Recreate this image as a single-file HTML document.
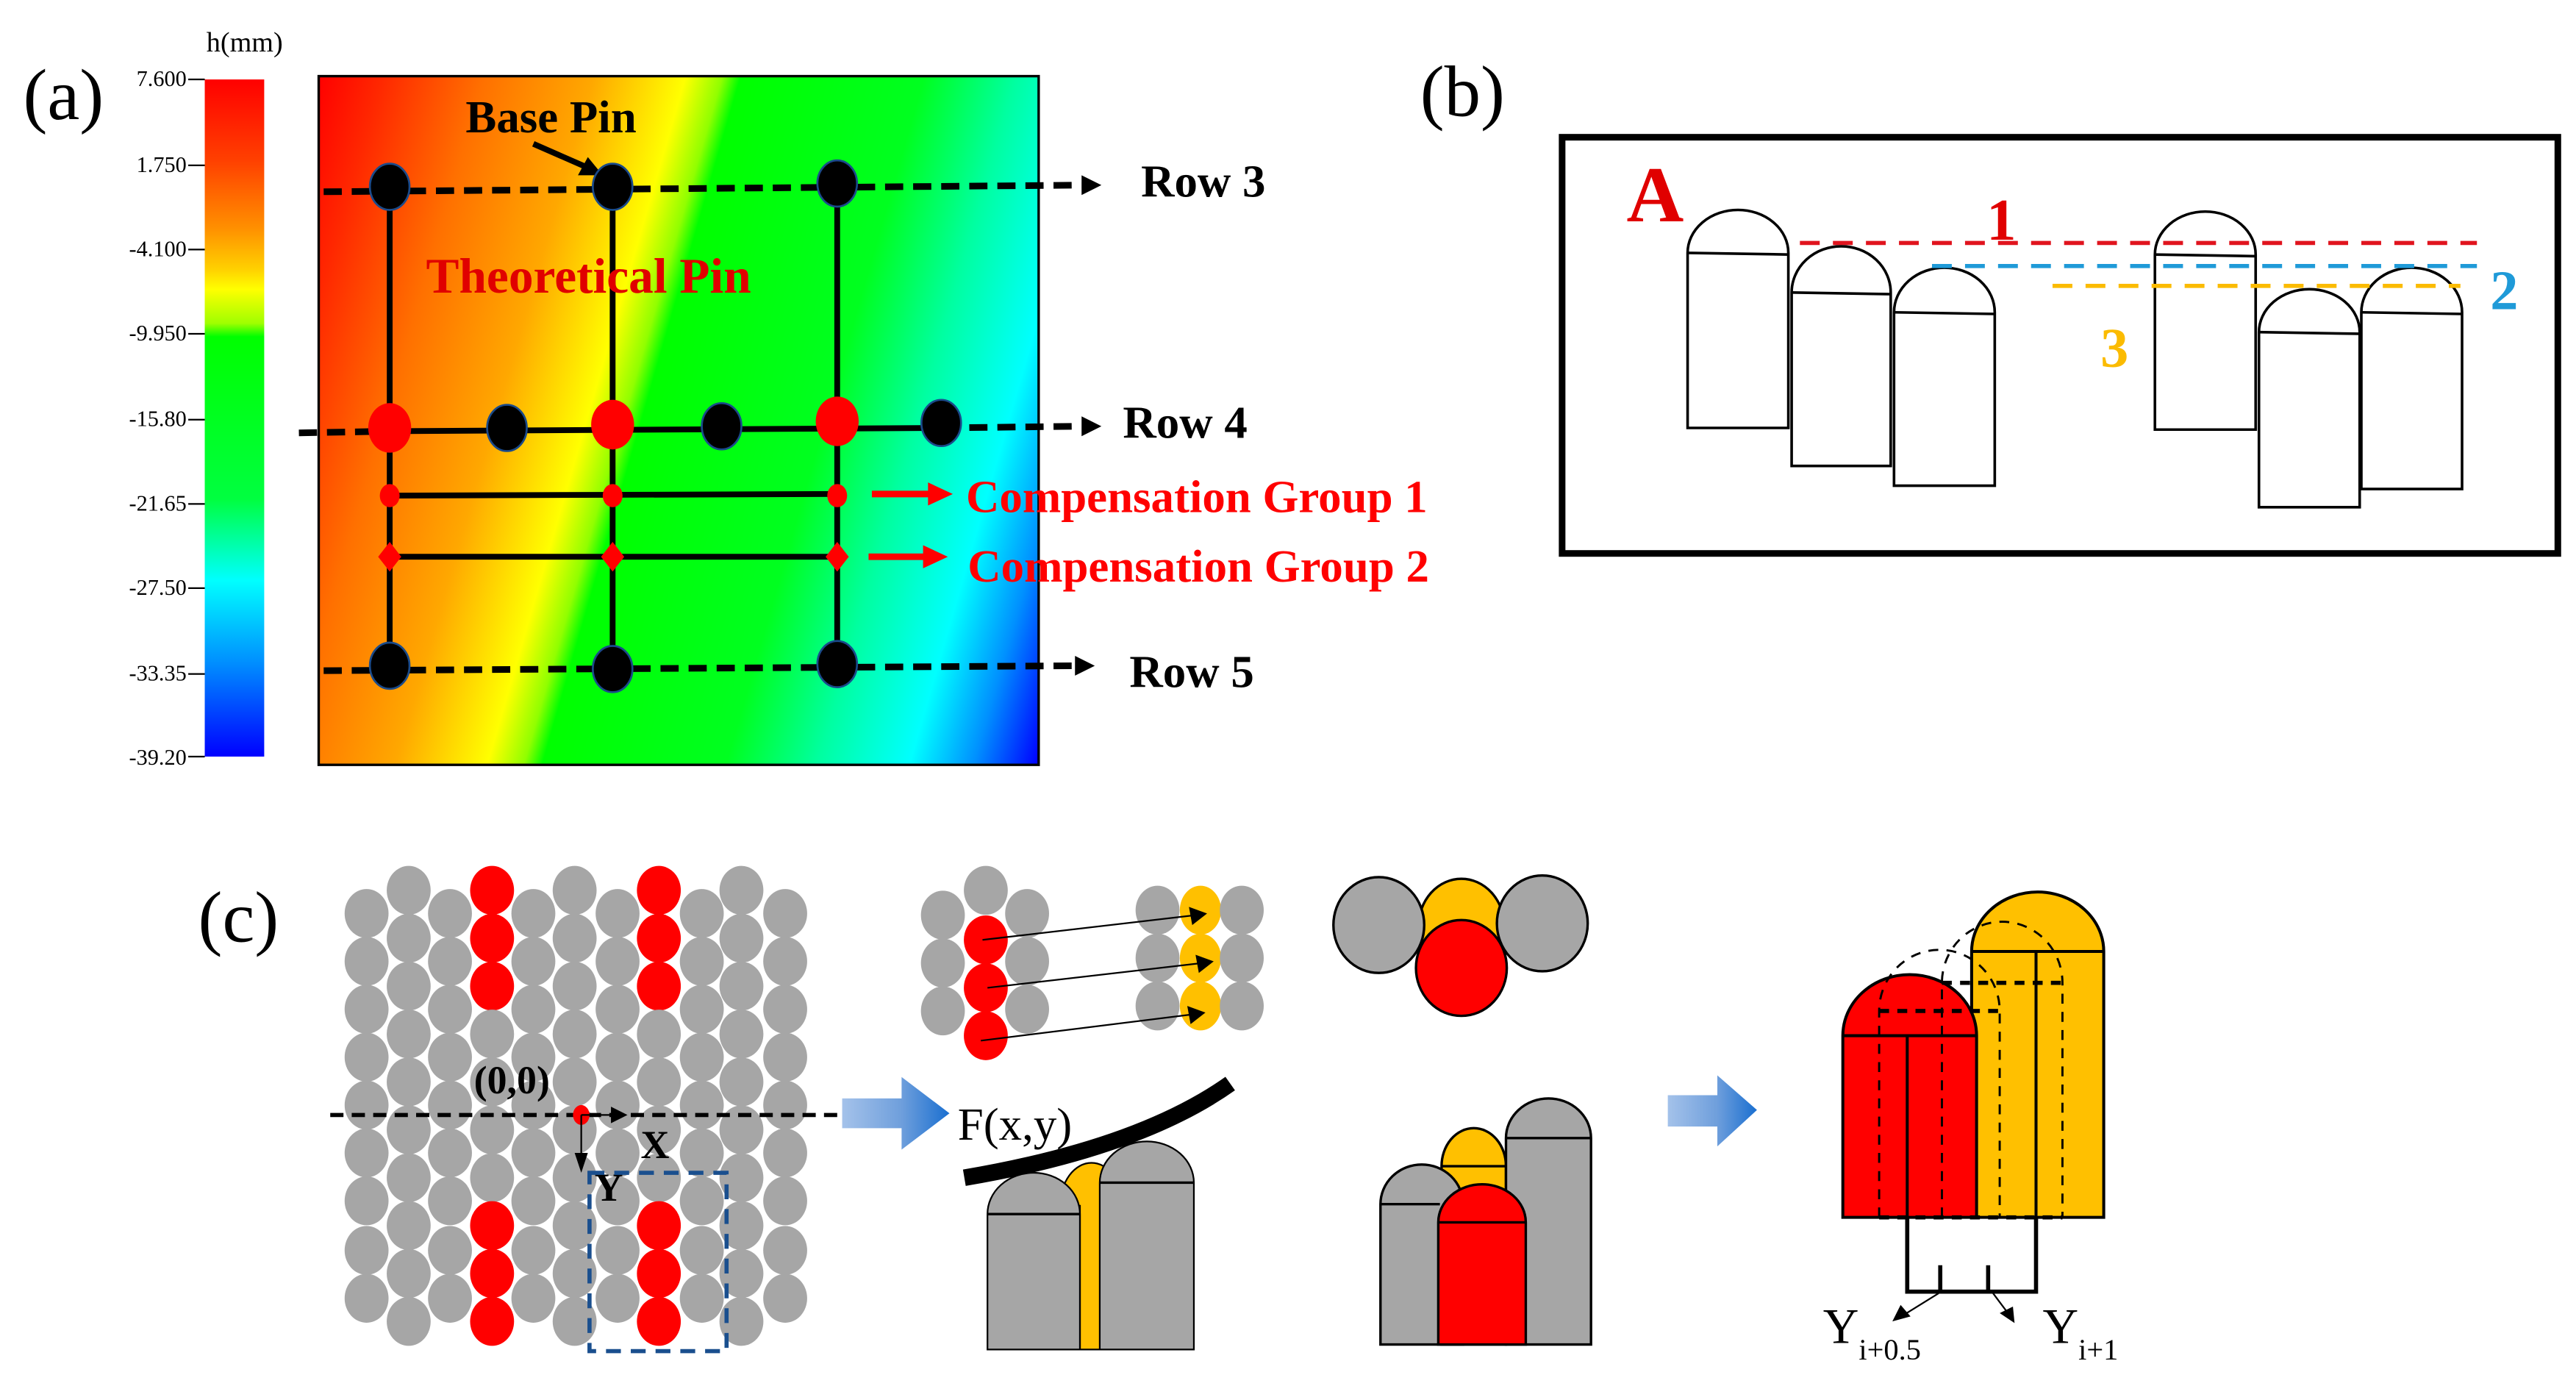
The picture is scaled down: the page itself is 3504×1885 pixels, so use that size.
<!DOCTYPE html>
<html><head><meta charset="utf-8"><style>
html,body{margin:0;padding:0;background:#fff;}
svg{display:block;}
text{font-family:"Liberation Serif",serif;}
</style></head><body>
<svg width="3504" height="1885" viewBox="0 0 1560 839" xmlns="http://www.w3.org/2000/svg">
<defs>
<linearGradient id="cb" x1="0" y1="0" x2="0" y2="1">
<stop offset="0" stop-color="#ff0000"/><stop offset="0.12" stop-color="#ff4000"/><stop offset="0.22" stop-color="#ff9000"/><stop offset="0.28" stop-color="#ffd000"/><stop offset="0.31" stop-color="#ffff00"/><stop offset="0.36" stop-color="#a0ff00"/><stop offset="0.38" stop-color="#00ff00"/><stop offset="0.62" stop-color="#00ff40"/><stop offset="0.74" stop-color="#00ffff"/><stop offset="0.86" stop-color="#0090ff"/><stop offset="1" stop-color="#0000ff"/>
</linearGradient>
<linearGradient id="map" gradientUnits="userSpaceOnUse" x1="193" y1="46" x2="706" y2="194">
<stop offset="0" stop-color="#ff0000"/><stop offset="0.07" stop-color="#ff2800"/><stop offset="0.18" stop-color="#ff7000"/><stop offset="0.3" stop-color="#ffa800"/><stop offset="0.4" stop-color="#ffff00"/><stop offset="0.44" stop-color="#90ff00"/><stop offset="0.46" stop-color="#00ff00"/><stop offset="0.66" stop-color="#00ff20"/><stop offset="0.76" stop-color="#00ffa0"/><stop offset="0.86" stop-color="#00ffff"/><stop offset="0.93" stop-color="#0090ff"/><stop offset="1" stop-color="#0000ff"/>
</linearGradient>
<linearGradient id="ba" x1="0" y1="0" x2="1" y2="0">
<stop offset="0" stop-color="#a4c2ea"/><stop offset="0.55" stop-color="#6f9fdc"/><stop offset="1" stop-color="#1a6fd0"/>
</linearGradient>
<ellipse id="g" rx="13.3" ry="14.8" fill="#a6a6a6"/>
<ellipse id="r" rx="13.3" ry="14.8" fill="#ff0000"/>
</defs>

<!-- (a) -->
<text x="14" y="72" font-size="44">(a)</text>
<text x="125" y="31" font-size="17">h(mm)</text>
<rect x="124" y="48" width="36" height="410" fill="url(#cb)"/>
<g font-size="13.5" text-anchor="end">
<text x="113" y="52">7.600</text><text x="113" y="104">1.750</text><text x="113" y="155">-4.100</text><text x="113" y="206">-9.950</text><text x="113" y="258">-15.80</text><text x="113" y="309">-21.65</text><text x="113" y="360">-27.50</text><text x="113" y="412">-33.35</text><text x="113" y="463">-39.20</text>
</g>
<g stroke="#000" stroke-width="1">
<line x1="114" y1="48" x2="124" y2="48"/><line x1="114" y1="100" x2="124" y2="100"/><line x1="114" y1="151" x2="124" y2="151"/><line x1="114" y1="202" x2="124" y2="202"/><line x1="114" y1="254" x2="124" y2="254"/><line x1="114" y1="305" x2="124" y2="305"/><line x1="114" y1="356" x2="124" y2="356"/><line x1="114" y1="408" x2="124" y2="408"/><line x1="114" y1="458" x2="124" y2="458"/>
</g>
<rect x="193" y="46" width="436" height="417" fill="url(#map)" stroke="#000" stroke-width="1.5"/>

<g stroke="#000" stroke-width="3.5">
<line x1="236" y1="113" x2="236" y2="403"/><line x1="371" y1="113" x2="371" y2="403"/><line x1="507" y1="111" x2="507" y2="403"/>
<line x1="236" y1="261" x2="570" y2="259"/>
<line x1="236" y1="300" x2="507" y2="299"/>
<line x1="236" y1="337" x2="507" y2="337"/>
</g>
<g stroke="#000" stroke-width="4" stroke-dasharray="11 6" fill="none">
<line x1="196" y1="116" x2="655" y2="112"/>
<line x1="181" y1="262" x2="236" y2="261"/>
<line x1="570" y1="259" x2="653" y2="258"/>
<line x1="196" y1="406" x2="650" y2="403"/>
</g>
<polygon points="667,112 655,106 655,118" fill="#000"/>
<polygon points="667,258 655,252 655,264" fill="#000"/>
<polygon points="663,403 651,397 651,409" fill="#000"/>
<g font-size="28" font-weight="bold">
<text x="691" y="119">Row 3</text><text x="680" y="265">Row 4</text><text x="684" y="416">Row 5</text>
<text x="282" y="80">Base Pin</text>
<text x="258" y="177" fill="#e00000" font-size="30">Theoretical Pin</text>
<text x="585" y="310" fill="#ff0000">Compensation Group 1</text>
<text x="586" y="352" fill="#ff0000">Compensation Group 2</text>
</g>
<line x1="323" y1="87" x2="355" y2="101" stroke="#000" stroke-width="3.5"/>
<polygon points="365,106 350,106 356,95" fill="#000"/>
<g fill="#000" stroke="#1a4a8a" stroke-width="1.2">
<ellipse cx="236" cy="113" rx="12" ry="14"/><ellipse cx="371" cy="113" rx="12" ry="14"/><ellipse cx="507" cy="111" rx="12" ry="14"/>
<ellipse cx="307" cy="259" rx="12" ry="14"/><ellipse cx="437" cy="258" rx="12" ry="14"/><ellipse cx="570" cy="256" rx="12" ry="14"/>
<ellipse cx="236" cy="403" rx="12" ry="14"/><ellipse cx="371" cy="405" rx="12" ry="14"/><ellipse cx="507" cy="402" rx="12" ry="14"/>
</g>
<g fill="#ff0000">
<ellipse cx="236" cy="259" rx="13" ry="15"/><ellipse cx="371" cy="257" rx="13" ry="15"/><ellipse cx="507" cy="255" rx="13" ry="15"/>
<ellipse cx="236" cy="300" rx="6" ry="7"/><ellipse cx="371" cy="300" rx="6" ry="7"/><ellipse cx="507" cy="300" rx="6" ry="7"/>
<polygon points="236,328 243,337 236,346 229,337"/><polygon points="371,328 378,337 371,346 364,337"/><polygon points="507,328 514,337 507,346 500,337"/>
</g>
<line x1="528" y1="299" x2="563" y2="299" stroke="#ff0000" stroke-width="4"/>
<polygon points="577,299 562,292 562,306" fill="#ff0000"/>
<line x1="526" y1="337" x2="560" y2="337" stroke="#ff0000" stroke-width="4"/>
<polygon points="574,337 559,330 559,344" fill="#ff0000"/>

<!-- (b) -->
<text x="860" y="70" font-size="44">(b)</text>
<rect x="946" y="83" width="603" height="252" fill="none" stroke="#000" stroke-width="4"/>
<g fill="#fff" stroke="#000" stroke-width="1.6">
<path d="M1022,153 A30.5,26 0 0 1 1083,153 L1083,259 L1022,259 Z"/><line x1="1022" y1="153" x2="1083" y2="154"/>
<path d="M1085,177 A30,28 0 0 1 1145,177 L1145,282 L1085,282 Z"/><line x1="1085" y1="177" x2="1145" y2="178"/>
<path d="M1147,189 A30.5,27 0 0 1 1208,189 L1208,294 L1147,294 Z"/><line x1="1147" y1="189" x2="1208" y2="190"/>
<path d="M1305,154 A30.5,26 0 0 1 1366,154 L1366,260 L1305,260 Z"/><line x1="1305" y1="154" x2="1366" y2="155"/>
<path d="M1368,201 A30.5,26 0 0 1 1429,201 L1429,307 L1368,307 Z"/><line x1="1368" y1="201" x2="1429" y2="202"/>
<path d="M1430,189 A30.5,27 0 0 1 1491,189 L1491,296 L1430,296 Z"/><line x1="1430" y1="189" x2="1491" y2="190"/>
</g>
<g stroke-width="2.5" stroke-dasharray="12 8">
<line x1="1090" y1="147" x2="1500" y2="147" stroke="#e0141e"/>
<line x1="1170" y1="161" x2="1500" y2="161" stroke="#1f9ad8"/>
<line x1="1243" y1="173" x2="1490" y2="173" stroke="#fbbb00"/>
</g>
<text x="985" y="134" font-size="48" font-weight="bold" fill="#e00000">A</text>
<text x="1203" y="145" font-size="36" font-weight="bold" fill="#e00000">1</text>
<text x="1508" y="187" font-size="34" font-weight="bold" fill="#1f9ad8">2</text>
<text x="1272" y="222" font-size="34" font-weight="bold" fill="#fbbb00">3</text>

<!-- (c) -->
<text x="120" y="570" font-size="44">(c)</text>
<g>
<use href="#g" x="222" y="553"/><use href="#g" x="222" y="582"/><use href="#g" x="222" y="611"/><use href="#g" x="222" y="640"/><use href="#g" x="222" y="669"/><use href="#g" x="222" y="698"/><use href="#g" x="222" y="727"/><use href="#g" x="222" y="757"/><use href="#g" x="222" y="786"/>
<use href="#g" x="272.5" y="553"/><use href="#g" x="272.5" y="582"/><use href="#g" x="272.5" y="611"/><use href="#g" x="272.5" y="640"/><use href="#g" x="272.5" y="669"/><use href="#g" x="272.5" y="698"/><use href="#g" x="272.5" y="727"/><use href="#g" x="272.5" y="757"/><use href="#g" x="272.5" y="786"/>
<use href="#g" x="323" y="553"/><use href="#g" x="323" y="582"/><use href="#g" x="323" y="611"/><use href="#g" x="323" y="640"/><use href="#g" x="323" y="669"/><use href="#g" x="323" y="698"/><use href="#g" x="323" y="727"/><use href="#g" x="323" y="757"/><use href="#g" x="323" y="786"/>
<use href="#g" x="374" y="553"/><use href="#g" x="374" y="582"/><use href="#g" x="374" y="611"/><use href="#g" x="374" y="640"/><use href="#g" x="374" y="669"/><use href="#g" x="374" y="698"/><use href="#g" x="374" y="727"/><use href="#g" x="374" y="757"/><use href="#g" x="374" y="786"/>
<use href="#g" x="425" y="553"/><use href="#g" x="425" y="582"/><use href="#g" x="425" y="611"/><use href="#g" x="425" y="640"/><use href="#g" x="425" y="669"/><use href="#g" x="425" y="698"/><use href="#g" x="425" y="727"/><use href="#g" x="425" y="757"/><use href="#g" x="425" y="786"/>
<use href="#g" x="475.5" y="553"/><use href="#g" x="475.5" y="582"/><use href="#g" x="475.5" y="611"/><use href="#g" x="475.5" y="640"/><use href="#g" x="475.5" y="669"/><use href="#g" x="475.5" y="698"/><use href="#g" x="475.5" y="727"/><use href="#g" x="475.5" y="757"/><use href="#g" x="475.5" y="786"/>
<use href="#g" x="247.5" y="539"/><use href="#g" x="247.5" y="568"/><use href="#g" x="247.5" y="597"/><use href="#g" x="247.5" y="626"/><use href="#g" x="247.5" y="655"/><use href="#g" x="247.5" y="684"/><use href="#g" x="247.5" y="713"/><use href="#g" x="247.5" y="742"/><use href="#g" x="247.5" y="771"/><use href="#g" x="247.5" y="800"/>
<use href="#r" x="298" y="539"/><use href="#r" x="298" y="568"/><use href="#r" x="298" y="597"/><use href="#g" x="298" y="626"/><use href="#g" x="298" y="655"/><use href="#g" x="298" y="684"/><use href="#g" x="298" y="713"/><use href="#r" x="298" y="742"/><use href="#r" x="298" y="771"/><use href="#r" x="298" y="800"/>
<use href="#g" x="348" y="539"/><use href="#g" x="348" y="568"/><use href="#g" x="348" y="597"/><use href="#g" x="348" y="626"/><use href="#g" x="348" y="655"/><use href="#g" x="348" y="684"/><use href="#g" x="348" y="713"/><use href="#g" x="348" y="742"/><use href="#g" x="348" y="771"/><use href="#g" x="348" y="800"/>
<use href="#r" x="399" y="539"/><use href="#r" x="399" y="568"/><use href="#r" x="399" y="597"/><use href="#g" x="399" y="626"/><use href="#g" x="399" y="655"/><use href="#g" x="399" y="684"/><use href="#g" x="399" y="713"/><use href="#r" x="399" y="742"/><use href="#r" x="399" y="771"/><use href="#r" x="399" y="800"/>
<use href="#g" x="449" y="539"/><use href="#g" x="449" y="568"/><use href="#g" x="449" y="597"/><use href="#g" x="449" y="626"/><use href="#g" x="449" y="655"/><use href="#g" x="449" y="684"/><use href="#g" x="449" y="713"/><use href="#g" x="449" y="742"/><use href="#g" x="449" y="771"/><use href="#g" x="449" y="800"/>
</g>
<line x1="200" y1="675" x2="508" y2="675" stroke="#000" stroke-width="2.5" stroke-dasharray="8 5"/>
<ellipse cx="352" cy="675" rx="5" ry="6" fill="#ff0000"/>
<line x1="352" y1="675" x2="372" y2="675" stroke="#000" stroke-width="1"/>
<polygon points="380,675 370,670 370,680" fill="#000"/>
<line x1="352" y1="675" x2="352" y2="700" stroke="#000" stroke-width="1"/>
<polygon points="352,710 348,698 356,698" fill="#000"/>
<text x="287" y="662" font-size="24" font-weight="bold">(0,0)</text>
<text x="388" y="701" font-size="24" font-weight="bold">X</text>
<text x="360" y="727" font-size="24" font-weight="bold">Y</text>
<rect x="357" y="710" width="83" height="108" fill="none" stroke="#1a4f8e" stroke-width="2.5" stroke-dasharray="9 6"/>

<polygon points="510,665 546,665 546,652 575,674 546,696 546,683 510,683" fill="url(#ba)"/>
<polygon points="1010,663 1040,663 1040,651 1064,672 1040,694 1040,682 1010,682" fill="url(#ba)"/>

<use href="#g" x="571" y="554"/><use href="#g" x="571" y="583"/><use href="#g" x="571" y="612"/>
<use href="#g" x="597" y="539"/><use href="#r" x="597" y="569"/><use href="#r" x="597" y="598"/><use href="#r" x="597" y="627"/>
<use href="#g" x="622" y="553"/><use href="#g" x="622" y="582"/><use href="#g" x="622" y="611"/>
<use href="#g" x="701" y="551"/><use href="#g" x="701" y="580"/><use href="#g" x="701" y="609"/>
<ellipse cx="727" cy="551" rx="12.5" ry="14.8" fill="#ffc000"/><ellipse cx="727" cy="580" rx="12.5" ry="14.8" fill="#ffc000"/><ellipse cx="727" cy="609" rx="12.5" ry="14.8" fill="#ffc000"/>
<use href="#g" x="752" y="551"/><use href="#g" x="752" y="580"/><use href="#g" x="752" y="609"/>
<g stroke="#000" stroke-width="1">
<line x1="595" y1="569" x2="724" y2="554"/><line x1="598" y1="598" x2="728" y2="583"/><line x1="594" y1="630" x2="723" y2="614"/>
</g>
<polygon points="731,553 720,549 722,560" fill="#000"/><polygon points="735,582 724,578 726,589" fill="#000"/><polygon points="730,613 719,609 721,620" fill="#000"/>

<text x="580" y="690" font-size="28">F(x,y)</text>
<path d="M584,713 Q690,695 745,656" fill="none" stroke="#000" stroke-width="10"/>
<g stroke="#000" stroke-width="1">
<path d="M642,730 A19,26 0 0 1 680,730 L668,730 L668,817 L654,817 L654,730 Z" fill="#ffc000"/>
<path d="M598,735 A28,25 0 0 1 654,735 L654,817 L598,817 Z" fill="#a6a6a6"/>
<path d="M666,716 A28.5,25 0 0 1 723,716 L723,817 L666,817 Z" fill="#a6a6a6"/>
<line x1="598" y1="735" x2="654" y2="735" stroke-width="1.5"/><line x1="666" y1="716" x2="723" y2="716" stroke-width="1.5"/>
</g>

<g stroke="#000" stroke-width="1.5">
<ellipse cx="885" cy="561" rx="26" ry="29" fill="#ffc000"/>
<ellipse cx="835" cy="560" rx="27.5" ry="29" fill="#a6a6a6"/>
<ellipse cx="934" cy="559" rx="27.5" ry="29" fill="#a6a6a6"/>
<ellipse cx="885" cy="586" rx="27.5" ry="29" fill="#ff0000"/>
</g>

<g stroke="#000" stroke-width="1.5">
<path d="M873,706 A19.5,23 0 0 1 912,706 L912,814 L873,814 Z" fill="#ffc000"/>
<path d="M912,689 A25.75,24 0 0 1 963.5,689 L963.5,814 L912,814 Z" fill="#a6a6a6"/>
<path d="M836,729 A25,24 0 0 1 886,729 L886,814 L836,814 Z" fill="#a6a6a6"/>
<path d="M871,740 A26.5,23 0 0 1 924,740 L924,814 L871,814 Z" fill="#ff0000"/>
<line x1="873" y1="706" x2="912" y2="706"/><line x1="912" y1="689" x2="963.5" y2="689"/><line x1="836" y1="729" x2="872" y2="729"/><line x1="871" y1="740" x2="924" y2="740"/>
</g>

<g stroke="#000" stroke-width="1.8">
<path d="M1194,576 A40,36 0 0 1 1274,576 L1274,737 L1194,737 Z" fill="#ffc000"/>
<path d="M1116,627 A40.5,37 0 0 1 1197,627 L1197,737 L1116,737 Z" fill="#ff0000"/>
<line x1="1116" y1="627" x2="1197" y2="627"/><line x1="1194" y1="576" x2="1274" y2="576"/>
<line x1="1155" y1="627" x2="1155" y2="737"/><line x1="1233" y1="576" x2="1233" y2="737"/>
</g>
<g stroke="#000" stroke-width="1.3" fill="none" stroke-dasharray="6 5">
<path d="M1138,737 L1138,612 A36.5,37 0 0 1 1211,612 L1211,737"/>
<path d="M1176,737 L1176,595 A36.5,37 0 0 1 1249,595 L1249,737"/>
<line x1="1138" y1="612" x2="1211" y2="612" stroke-width="2.5"/>
<line x1="1176" y1="595" x2="1249" y2="595" stroke-width="2.5"/>
<line x1="1138" y1="737" x2="1249" y2="737" stroke-width="2.5"/>
</g>
<g stroke="#000" stroke-width="2.5" fill="none">
<path d="M1155,737 L1155,782 L1233,782 L1233,737"/>
<line x1="1175" y1="766" x2="1175" y2="782"/><line x1="1204" y1="766" x2="1204" y2="782"/>
</g>
<line x1="1174" y1="783" x2="1153" y2="796" stroke="#000" stroke-width="1"/>
<polygon points="1146,800 1151,790 1157,797" fill="#000"/>
<line x1="1207" y1="783" x2="1216" y2="795" stroke="#000" stroke-width="1"/>
<polygon points="1220,801 1211,795 1219,791" fill="#000"/>
<text x="1104" y="813" font-size="30">Y<tspan font-size="18" dy="10">i+0.5</tspan></text>
<text x="1237" y="813" font-size="30">Y<tspan font-size="18" dy="10">i+1</tspan></text>
</svg>
</body></html>
